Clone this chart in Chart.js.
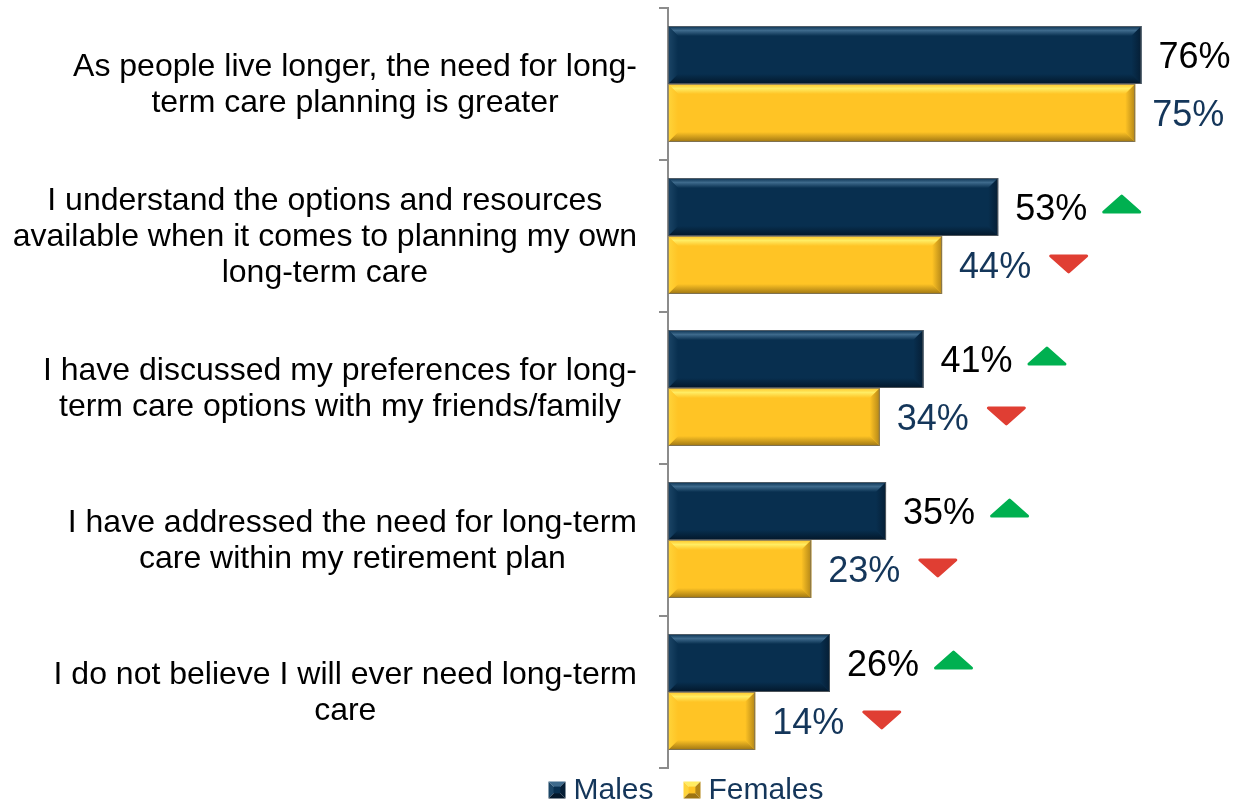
<!DOCTYPE html>
<html>
<head>
<meta charset="utf-8">
<title>Long-term care attitudes by gender</title>
<script src="https://cdn.jsdelivr.net/npm/chart.js@4.4.1/dist/chart.umd.min.js"></script>
<style>
  html, body { margin: 0; padding: 0; background: #fff; }
  #wrap { width: 1238px; height: 803px; }
</style>
</head>
<body>
<div id="wrap"><canvas id="ltcChart" width="1238" height="803"></canvas></div>
<script>
// statements, one per row (pre-wrapped lines)
const categories = [
  ['As people live longer, the need for long-', 'term care planning is greater'],
  ['I understand the options and resources', 'available when it comes to planning my own', 'long-term care'],
  ['I have discussed my preferences for long-', 'term care options with my friends/family'],
  ['I have addressed the need for long-term', 'care within my retirement plan'],
  ['I do not believe I will ever need long-term', 'care']
];
const seriesNames = ['Males', 'Females'];
const males = [76, 53, 41, 35, 26];
const females = [75, 44, 34, 23, 14];
// significance arrows drawn after each value label
const maleShift = [null, 'up', 'up', 'up', 'up'];
const femaleShift = [null, 'down', 'down', 'down', 'down'];

const FONT = "'Liberation Sans', Arial, sans-serif";
const TEXT_NAVY = '#14365A';
const AXIS_GREY = '#8C8C8C';

// face + bevel shades for each series
const tones = [
  { face: '#082F4F', top: '#3E6A8C', left: '#1C4667', bottom: '#03172A', right: '#051E35' },
  { face: '#FFC425', top: '#FFEC63', left: '#FFD43A', bottom: '#9E7512', right: '#B38617' }
];

function poly(ctx, pts, fill) {
  ctx.beginPath();
  ctx.moveTo(pts[0][0], pts[0][1]);
  for (let i = 1; i < pts.length; i++) ctx.lineTo(pts[i][0], pts[i][1]);
  ctx.closePath();
  ctx.fillStyle = fill;
  ctx.fill();
}

// beveled edges on top of the plain bars
const bevelBars = {
  id: 'bevelBars',
  afterDatasetsDraw(chart) {
    const ctx = chart.ctx;
    ctx.save();
    chart.data.datasets.forEach((ds, di) => {
      const tone = tones[di];
      chart.getDatasetMeta(di).data.forEach(bar => {
        const l = Math.min(bar.base, bar.x), r = Math.max(bar.base, bar.x);
        const t = bar.y - bar.height / 2, b = bar.y + bar.height / 2;
        const d = Math.min(10, (r - l) / 2, (b - t) / 2);

        const gTop = ctx.createLinearGradient(0, t, 0, t + d);
        gTop.addColorStop(0, tone.face);
        gTop.addColorStop(0.45, tone.top);
        gTop.addColorStop(1, tone.face);
        poly(ctx, [[l, t], [r, t], [r - d, t + d], [l + d, t + d]], gTop);

        const gBot = ctx.createLinearGradient(0, b - d, 0, b);
        gBot.addColorStop(0, tone.face);
        gBot.addColorStop(1, tone.bottom);
        poly(ctx, [[l, b], [r, b], [r - d, b - d], [l + d, b - d]], gBot);

        const gLeft = ctx.createLinearGradient(l, 0, l + d, 0);
        gLeft.addColorStop(0, tone.left);
        gLeft.addColorStop(1, tone.face);
        poly(ctx, [[l, t], [l + d, t + d], [l + d, b - d], [l, b]], gLeft);

        const gRight = ctx.createLinearGradient(r - d, 0, r, 0);
        gRight.addColorStop(0, tone.face);
        gRight.addColorStop(1, tone.right);
        poly(ctx, [[r, t], [r - d, t + d], [r - d, b - d], [r, b]], gRight);

        ctx.strokeStyle = 'rgba(110,110,110,0.7)';
        ctx.lineWidth = 1;
        ctx.strokeRect(l + 0.5, t + 0.5, r - l - 1, b - t - 1);
      });
    });
    ctx.restore();
  }
};

function drawArrow(ctx, x, cy, dir) {
  const w = 39, h = 19;
  ctx.save();
  ctx.fillStyle = ctx.strokeStyle = dir === 'up' ? '#00B050' : '#E03E33';
  ctx.lineJoin = 'round';
  ctx.lineWidth = 3;
  ctx.beginPath();
  if (dir === 'up') {
    ctx.moveTo(x + 1.5, cy + h / 2 - 1.5);
    ctx.lineTo(x + w / 2, cy - h / 2 + 1.5);
    ctx.lineTo(x + w - 1.5, cy + h / 2 - 1.5);
  } else {
    ctx.moveTo(x + 1.5, cy - h / 2 + 1.5);
    ctx.lineTo(x + w / 2, cy + h / 2 - 1.5);
    ctx.lineTo(x + w - 1.5, cy - h / 2 + 1.5);
  }
  ctx.closePath();
  ctx.fill();
  ctx.stroke();
  ctx.restore();
}

// percentage labels at the bar ends, plus arrows
const valueLabels = {
  id: 'valueLabels',
  afterDatasetsDraw(chart) {
    const ctx = chart.ctx;
    const shifts = [maleShift, femaleShift];
    ctx.save();
    ctx.font = `36px ${FONT}`;
    ctx.textAlign = 'left';
    ctx.textBaseline = 'middle';
    chart.data.datasets.forEach((ds, di) => {
      chart.getDatasetMeta(di).data.forEach((bar, i) => {
        const txt = ds.data[i] + '%';
        const tx = bar.x + 17, ty = bar.y + 3;
        ctx.fillStyle = di === 0 ? '#000000' : TEXT_NAVY;
        ctx.fillText(txt, tx, ty);
        const dir = shifts[di][i];
        if (dir) {
          const ax = tx + ctx.measureText(txt).width + (dir === 'up' ? 15 : 18);
          drawArrow(ctx, ax, bar.y + (dir === 'up' ? -3 : -1), dir);
        }
      });
    });
    ctx.restore();
  }
};

// category text: each block right-aligned, its lines centred within it
const categoryLabels = {
  id: 'categoryLabels',
  afterDraw(chart) {
    const yScale = chart.scales.y, ctx = chart.ctx;
    ctx.save();
    ctx.font = `32px ${FONT}`;
    ctx.fillStyle = '#000000';
    ctx.textAlign = 'center';
    ctx.textBaseline = 'middle';
    const right = chart.chartArea.left - 31;
    categories.forEach((lines, i) => {
      const w = Math.max(...lines.map(s => ctx.measureText(s).width));
      const cx = right - w / 2;
      const cy = yScale.getPixelForTick(i) + 1;
      lines.forEach((s, k) => {
        ctx.fillText(s, cx, cy + (k - (lines.length - 1) / 2) * 36);
      });
    });
    ctx.restore();
  }
};

function drawPyramid(ctx, x, y, s, tone) {
  const c = [x + s / 2, y + s / 2];
  poly(ctx, [[x, y], [x + s, y], c], tone.top);
  poly(ctx, [[x, y], c, [x, y + s]], tone.left);
  poly(ctx, [[x + s, y], [x + s, y + s], c], tone.right);
  poly(ctx, [[x, y + s], [x + s, y + s], c], tone.bottom);
  ctx.fillStyle = tone.face;
  ctx.fillRect(x + s * 0.3, y + s * 0.3, s * 0.4, s * 0.4);
}

// legend row under the plot
const legendRow = {
  id: 'legendRow',
  afterDraw(chart) {
    const ctx = chart.ctx;
    ctx.save();
    ctx.font = `30px ${FONT}`;
    ctx.textAlign = 'left';
    ctx.textBaseline = 'middle';
    const box = 17, gap = 8, between = 30, cy = 790;
    const names = chart.data.datasets.map(ds => ds.label);
    const widths = names.map(n => ctx.measureText(n).width);
    const total = widths.reduce((a, w) => a + box + gap + w, 0) + between * (names.length - 1);
    let x = 686 - total / 2;
    names.forEach((n, i) => {
      drawPyramid(ctx, x, cy - box / 2, box, tones[i]);
      x += box + gap;
      ctx.fillStyle = TEXT_NAVY;
      ctx.fillText(n, x, cy + 1);
      x += widths[i] + between;
    });
    ctx.restore();
  }
};

new Chart(document.getElementById('ltcChart'), {
  type: 'bar',
  data: {
    labels: categories,
    datasets: [
      { label: seriesNames[0], data: males, backgroundColor: tones[0].face },
      { label: seriesNames[1], data: females, backgroundColor: tones[1].face }
    ]
  },
  options: {
    indexAxis: 'y',
    responsive: false,
    animation: false,
    devicePixelRatio: 1,
    layout: { padding: { top: 8, bottom: 35, left: 0, right: 0 } },
    datasets: { bar: { categoryPercentage: 0.763, barPercentage: 1 } },
    plugins: { legend: { display: false }, tooltip: { enabled: false } },
    scales: {
      x: { display: false, min: 0, max: 91.5 },
      y: {
        grid: { drawOnChartArea: false, color: AXIS_GREY, lineWidth: 2, tickLength: 9, offset: true },
        border: { color: AXIS_GREY, width: 2 },
        ticks: { display: false },
        afterFit(scale) { scale.width = 668; }
      }
    }
  },
  plugins: [bevelBars, valueLabels, categoryLabels, legendRow]
});
</script>
</body>
</html>
